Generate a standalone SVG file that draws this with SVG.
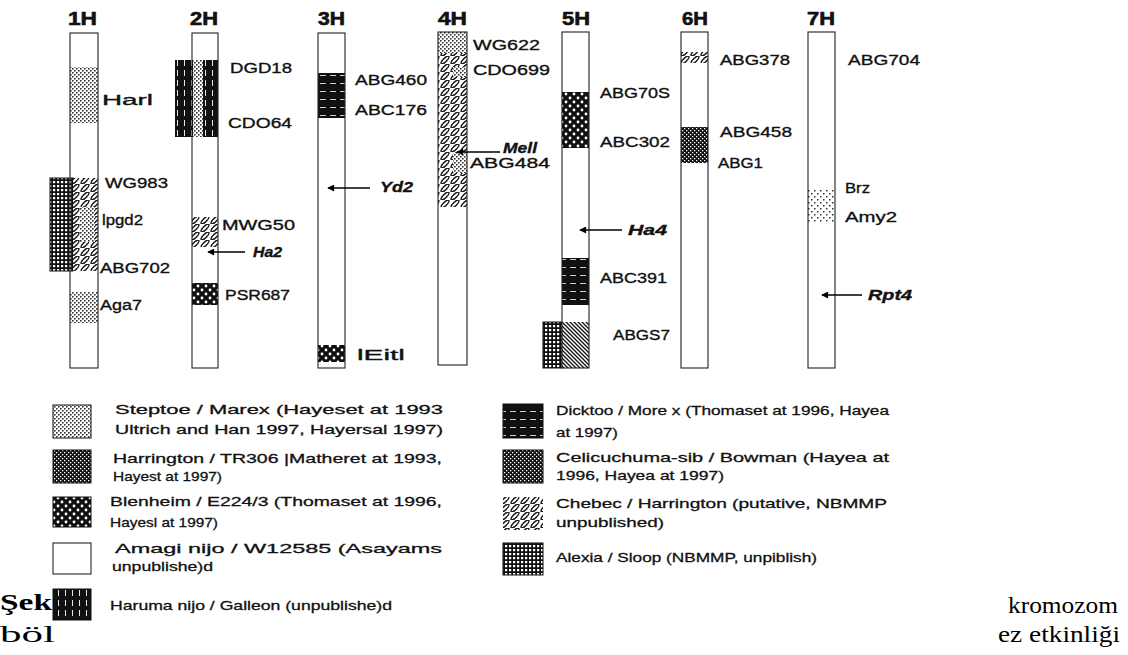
<svg xmlns="http://www.w3.org/2000/svg" width="1128" height="655" viewBox="0 0 1128 655">
<style>
.t{font-family:"Liberation Sans",Arial,sans-serif;font-size:15.5px;fill:#111;stroke:#111;stroke-width:0.35}
.bi{font-weight:bold;font-style:italic}
.h{font-weight:900;font-size:18px;stroke-width:0.6}
.lg{font-family:"Liberation Sans",Arial,sans-serif;font-size:13.5px;fill:#111;stroke:#111;stroke-width:0.3}
.sf{font-family:"Liberation Serif","Times New Roman",serif;font-size:23px;fill:#000}
.chr{fill:none;stroke:#222;stroke-width:1.1}
.sw{stroke:#111;stroke-width:1}
.arr{stroke:#000;stroke-width:1.7;fill:none;marker-end:url(#ah)}
</style>
<defs>
<marker id="ah" viewBox="0 0 8 8" refX="7" refY="4" markerWidth="8" markerHeight="7" orient="auto" markerUnits="userSpaceOnUse">
<path d="M0,0 L8,4 L0,8 Z" fill="#000"/>
</marker>
<pattern id="pStep" width="4" height="4" patternUnits="userSpaceOnUse">
<rect width="4" height="4" fill="#fff"/>
<rect x="0" y="0" width="1.6" height="1.6" fill="#333"/>
<rect x="2" y="2" width="1.6" height="1.6" fill="#333"/>
</pattern>
<pattern id="pStep2" width="6" height="6" patternUnits="userSpaceOnUse">
<rect width="6" height="6" fill="#fff"/>
<rect x="1" y="1" width="1.5" height="1.5" fill="#333"/>
<rect x="4" y="4" width="1.5" height="1.5" fill="#333"/>
</pattern>
<pattern id="pHarr" width="4" height="4" patternUnits="userSpaceOnUse">
<rect width="4" height="4" fill="#111"/>
<rect x="0" y="0" width="1.3" height="1.3" fill="#fff"/>
<rect x="2" y="2" width="1.3" height="1.3" fill="#fff"/>
</pattern>
<pattern id="pBlen" width="8" height="8" patternUnits="userSpaceOnUse">
<rect width="8" height="8" fill="#111"/>
<circle cx="2" cy="2" r="1.4" fill="#fff"/>
<circle cx="6" cy="6" r="1.4" fill="#fff"/>
</pattern>
<pattern id="pDick" width="10" height="8" patternUnits="userSpaceOnUse">
<rect width="10" height="8" fill="#111"/>
<rect x="0" y="3" width="6" height="0.8" fill="#fff"/>
</pattern>
<pattern id="pHaru" width="7" height="10" patternUnits="userSpaceOnUse">
<rect width="7" height="10" fill="#111"/>
<rect x="2" y="0" width="0.9" height="6" fill="#fff"/>
</pattern>
<pattern id="pCheb" width="10" height="8" patternUnits="userSpaceOnUse">
<rect width="10" height="8" fill="#fff"/>
<ellipse cx="5" cy="4" rx="5.2" ry="1.8" transform="rotate(-45 5 4)" fill="none" stroke="#111" stroke-width="1.4"/>
</pattern>
<pattern id="pAlex" width="4" height="4" patternUnits="userSpaceOnUse">
<rect width="4" height="4" fill="#111"/>
<rect x="1" y="1" width="2.2" height="2.2" fill="#fff"/>
</pattern>
<pattern id="pHatch" width="4" height="4" patternUnits="userSpaceOnUse">
<rect width="4" height="4" fill="#fff"/>
<path d="M0,0 L4,4 M-1,3 L1,5 M3,-1 L5,1" stroke="#111" stroke-width="1.3"/>
</pattern>
</defs>
<rect width="1128" height="655" fill="#fff"/>

<g id="chr1H">
<text class="t h" x="68" y="25" textLength="29" lengthAdjust="spacingAndGlyphs">1H</text>
<rect x="70" y="33" width="28" height="335" fill="#fff"/>
<rect x="70" y="67" width="28" height="56" fill="url(#pStep)"/>
<rect x="50" y="178" width="23" height="93" fill="url(#pAlex)" class="sw"/>
<rect x="73" y="178" width="25" height="93" fill="url(#pCheb)"/>
<rect x="80" y="207" width="15" height="35" fill="url(#pStep)"/>
<rect x="70" y="292" width="28" height="31" fill="url(#pStep)"/>
<rect x="70" y="33" width="28" height="335" class="chr"/>
<text class="t" x="102" y="105" textLength="51" lengthAdjust="spacingAndGlyphs">Harl</text>
<text class="t" x="105" y="188" textLength="63" lengthAdjust="spacingAndGlyphs">WG983</text>
<text class="t" x="102" y="225" textLength="41" lengthAdjust="spacingAndGlyphs">lpgd2</text>
<text class="t" x="100" y="273" textLength="70" lengthAdjust="spacingAndGlyphs">ABG702</text>
<text class="t" x="100" y="310" textLength="42" lengthAdjust="spacingAndGlyphs">Aga7</text>
</g>

<g id="chr2H">
<text class="t h" x="190" y="25" textLength="28" lengthAdjust="spacingAndGlyphs">2H</text>
<rect x="192" y="33" width="26" height="335" fill="#fff"/>
<rect x="175" y="60" width="43" height="77" fill="url(#pHaru)"/>
<rect x="193" y="60" width="10" height="77" fill="url(#pStep)"/>
<rect x="192" y="217" width="26" height="30" fill="url(#pCheb)"/>
<rect x="192" y="283" width="26" height="22" fill="url(#pBlen)"/>
<rect x="192" y="33" width="26" height="335" class="chr"/>
<text class="t" x="230" y="73" textLength="62" lengthAdjust="spacingAndGlyphs">DGD18</text>
<text class="t" x="228" y="128" textLength="64" lengthAdjust="spacingAndGlyphs">CDO64</text>
<text class="t" x="222" y="230" textLength="73" lengthAdjust="spacingAndGlyphs">MWG50</text>
<text class="t bi" x="253" y="257" textLength="29" lengthAdjust="spacingAndGlyphs">Ha2</text>
<text class="t" x="225" y="300" textLength="65" lengthAdjust="spacingAndGlyphs">PSR687</text>
</g>

<g id="chr3H">
<text class="t h" x="318" y="25" textLength="27" lengthAdjust="spacingAndGlyphs">3H</text>
<rect x="318" y="33" width="27" height="335" fill="#fff"/>
<rect x="318" y="73" width="27" height="45" fill="url(#pDick)"/>
<rect x="318" y="345" width="27" height="17" fill="url(#pBlen)"/>
<rect x="318" y="33" width="27" height="335" class="chr"/>
<text class="t" x="355" y="85" textLength="72" lengthAdjust="spacingAndGlyphs">ABG460</text>
<text class="t" x="355" y="115" textLength="72" lengthAdjust="spacingAndGlyphs">ABC176</text>
<text class="t bi" x="380" y="192" textLength="33" lengthAdjust="spacingAndGlyphs">Yd2</text>
<text class="t" x="357" y="360" textLength="48" lengthAdjust="spacingAndGlyphs">lEitl</text>
</g>

<g id="chr4H">
<text class="t h" x="438" y="25" textLength="29" lengthAdjust="spacingAndGlyphs">4H</text>
<rect x="438" y="32" width="29" height="333" fill="#fff"/>
<rect x="438" y="32" width="29" height="21" fill="url(#pStep)"/>
<rect x="438" y="53" width="29" height="154" fill="url(#pCheb)"/>
<rect x="453" y="67" width="14" height="10" fill="url(#pStep)"/>
<rect x="453" y="153" width="14" height="20" fill="url(#pStep)"/>
<rect x="438" y="32" width="29" height="333" class="chr"/>
<text class="t" x="473" y="50" textLength="67" lengthAdjust="spacingAndGlyphs">WG622</text>
<text class="t" x="473" y="75" textLength="77" lengthAdjust="spacingAndGlyphs">CDO699</text>
<text class="t bi" x="503" y="153" textLength="34" lengthAdjust="spacingAndGlyphs">Mell</text>
<text class="t" x="470" y="168" textLength="80" lengthAdjust="spacingAndGlyphs">ABG484</text>
</g>

<g id="chr5H">
<text class="t h" x="562" y="25" textLength="28" lengthAdjust="spacingAndGlyphs">5H</text>
<rect x="562" y="32" width="27" height="336" fill="#fff"/>
<rect x="562" y="92" width="27" height="56" fill="url(#pBlen)"/>
<rect x="562" y="258" width="27" height="47" fill="url(#pDick)"/>
<rect x="543" y="322" width="19" height="46" fill="url(#pAlex)" class="sw"/>
<rect x="562" y="322" width="27" height="46" fill="url(#pHatch)"/>
<rect x="562" y="32" width="27" height="336" class="chr"/>
<text class="t" x="600" y="98" textLength="70" lengthAdjust="spacingAndGlyphs">ABG70S</text>
<text class="t" x="600" y="147" textLength="70" lengthAdjust="spacingAndGlyphs">ABC302</text>
<text class="t bi" x="628" y="235" textLength="39" lengthAdjust="spacingAndGlyphs">Ha4</text>
<text class="t" x="600" y="283" textLength="67" lengthAdjust="spacingAndGlyphs">ABC391</text>
<text class="t" x="613" y="340" textLength="57" lengthAdjust="spacingAndGlyphs">ABGS7</text>
</g>

<g id="chr6H">
<text class="t h" x="682" y="25" textLength="26" lengthAdjust="spacingAndGlyphs">6H</text>
<rect x="681" y="32" width="27" height="336" fill="#fff"/>
<rect x="681" y="52" width="27" height="11" fill="url(#pCheb)"/>
<rect x="681" y="127" width="27" height="36" fill="url(#pHarr)"/>
<rect x="681" y="32" width="27" height="336" class="chr"/>
<text class="t" x="720" y="65" textLength="70" lengthAdjust="spacingAndGlyphs">ABG378</text>
<text class="t" x="720" y="137" textLength="72" lengthAdjust="spacingAndGlyphs">ABG458</text>
<text class="t" x="718" y="168" textLength="45" lengthAdjust="spacingAndGlyphs">ABG1</text>
</g>

<g id="chr7H">
<text class="t h" x="807" y="25" textLength="28" lengthAdjust="spacingAndGlyphs">7H</text>
<rect x="808" y="32" width="27" height="336" fill="#fff"/>
<rect x="808" y="190" width="27" height="32" fill="url(#pStep2)"/>
<rect x="808" y="32" width="27" height="336" class="chr"/>
<text class="t" x="848" y="65" textLength="72" lengthAdjust="spacingAndGlyphs">ABG704</text>
<text class="t" x="845" y="193" textLength="25" lengthAdjust="spacingAndGlyphs">Brz</text>
<text class="t" x="845" y="222" textLength="52" lengthAdjust="spacingAndGlyphs">Amy2</text>
<text class="t bi" x="868" y="300" textLength="44" lengthAdjust="spacingAndGlyphs">Rpt4</text>
</g>

<g id="connectors">
<line class="arr" x1="245" y1="252" x2="208" y2="252"/>
<line class="arr" x1="370" y1="188" x2="328" y2="188"/>
<line class="arr" x1="500" y1="152" x2="457" y2="152"/>
<line class="arr" x1="622" y1="230" x2="580" y2="230"/>
<line class="arr" x1="862" y1="295" x2="822" y2="295"/>
</g>

<g id="legend-steptoe">
<rect x="53" y="405" width="38" height="33" fill="url(#pStep)" class="sw"/>
<text class="lg" x="115" y="414" textLength="328" lengthAdjust="spacingAndGlyphs">Steptoe / Marex  (Hayeset at 1993</text>
<text class="lg" x="115" y="434" textLength="328" lengthAdjust="spacingAndGlyphs">Ultrich and Han 1997, Hayersal 1997)</text>
</g>
<g id="legend-harrington">
<rect x="53" y="450" width="38" height="33" fill="url(#pHarr)" class="sw"/>
<text class="lg" x="113" y="463" textLength="329" lengthAdjust="spacingAndGlyphs">Harrington / TR306 |Matheret at 1993,</text>
<text class="lg" x="113" y="481" textLength="109" lengthAdjust="spacingAndGlyphs">Hayest at 1997)</text>
</g>
<g id="legend-blenheim">
<rect x="53" y="497" width="38" height="30" fill="url(#pBlen)" class="sw"/>
<text class="lg" x="110" y="506" textLength="332" lengthAdjust="spacingAndGlyphs">Blenheim / E224/3  (Thomaset at 1996,</text>
<text class="lg" x="110" y="527" textLength="108" lengthAdjust="spacingAndGlyphs">Hayesl at 1997)</text>
</g>
<g id="legend-amagi">
<rect x="53" y="543" width="38" height="31" fill="#fff" class="sw"/>
<text class="lg" x="115" y="553" textLength="327" lengthAdjust="spacingAndGlyphs">Amagi  nijo  /  W12585   (Asayams</text>
<text class="lg" x="112" y="571" textLength="101" lengthAdjust="spacingAndGlyphs">unpublishe)d</text>
</g>
<g id="legend-haruma">
<rect x="53" y="589" width="38" height="31" fill="url(#pHaru)" class="sw"/>
<text class="lg" x="110" y="610" textLength="282" lengthAdjust="spacingAndGlyphs">Haruma nijo / Galleon (unpublishe)d</text>
</g>
<g id="legend-dicktoo">
<rect x="503" y="404" width="40" height="34" fill="url(#pDick)" class="sw"/>
<text class="lg" x="556" y="415" textLength="333" lengthAdjust="spacingAndGlyphs">Dicktoo / More x (Thomaset at 1996, Hayea</text>
<text class="lg" x="556" y="437" textLength="62" lengthAdjust="spacingAndGlyphs">at 1997)</text>
</g>
<g id="legend-celicuchuma">
<rect x="503" y="450" width="40" height="33" fill="url(#pHarr)" class="sw"/>
<text class="lg" x="556" y="462" textLength="333" lengthAdjust="spacingAndGlyphs">Celicuchuma-sib / Bowman (Hayea at</text>
<text class="lg" x="556" y="480" textLength="168" lengthAdjust="spacingAndGlyphs">1996, Hayea at 1997)</text>
</g>
<g id="legend-chebec">
<rect x="503" y="497" width="40" height="33" fill="url(#pCheb)"/>
<text class="lg" x="556" y="508" textLength="331" lengthAdjust="spacingAndGlyphs">Chebec / Harrington  (putative, NBMMP</text>
<text class="lg" x="556" y="527" textLength="108" lengthAdjust="spacingAndGlyphs">unpublished)</text>
</g>
<g id="legend-alexia">
<rect x="503" y="543" width="40" height="32" fill="url(#pAlex)" class="sw"/>
<text class="lg" x="556" y="562" textLength="261" lengthAdjust="spacingAndGlyphs">Alexia / Sloop  (NBMMP, unpiblish)</text>
</g>

<g id="caption">
<text class="sf" x="0" y="610" font-weight="bold" textLength="52" lengthAdjust="spacingAndGlyphs">Şek</text>
<text class="sf" x="0" y="642" textLength="55" lengthAdjust="spacingAndGlyphs">böl</text>
<text class="sf" x="1008" y="613" textLength="110" lengthAdjust="spacingAndGlyphs">kromozom</text>
<text class="sf" x="998" y="642" textLength="122" lengthAdjust="spacingAndGlyphs">ez  etkinliği</text>
</g>
</svg>
